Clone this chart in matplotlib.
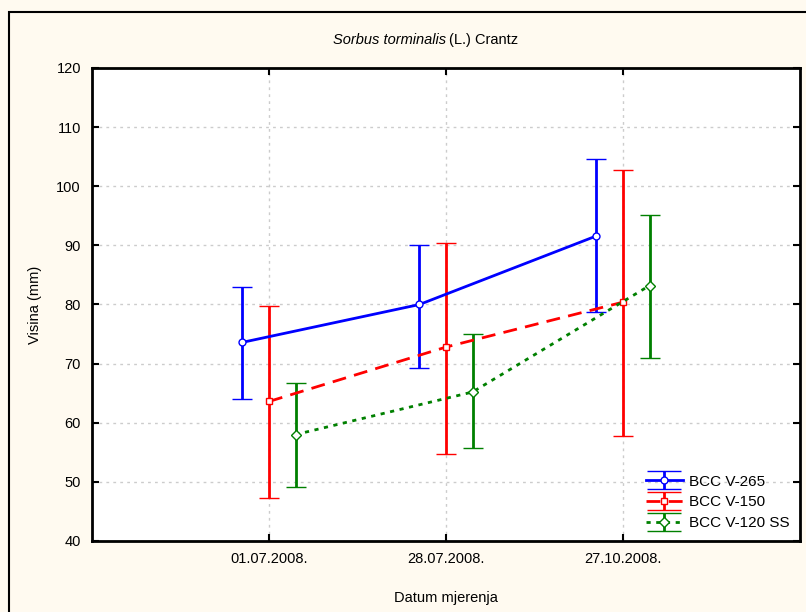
import numpy as np
import matplotlib
matplotlib.use('Agg')
import matplotlib.pyplot as plt
from matplotlib.patches import Rectangle
from matplotlib.legend_handler import HandlerErrorbar
from matplotlib.container import ErrorbarContainer

plt.rcParams['font.family'] = ['Liberation Sans', 'DejaVu Sans']

datumi = ['01.07.2008.', '28.07.2008.', '27.10.2008.']
serije = ['BCC V-265', 'BCC V-150', 'BCC V-120 SS']

# srednje vrijednosti i granice (donja, gornja)
v265 = [73.6, 80.0, 91.6]
v265_donja = [64.0, 69.2, 78.8]
v265_gornja = [83.0, 90.0, 104.6]

v150 = [63.6, 72.8, 80.4]
v150_donja = [47.2, 54.7, 57.7]
v150_gornja = [79.7, 90.4, 102.7]

v120 = [58.0, 65.2, 83.2]
v120_donja = [49.2, 55.7, 71.0]
v120_gornja = [66.7, 75.0, 95.2]

fig = plt.figure(figsize=(8.06, 6.12), dpi=100)
fig.patch.set_facecolor('#fffaf0')
ax = fig.add_axes([92/806, 1 - 541/612, 708/806, 473/612])
ax.set_facecolor('white')

# okvir oko slike
fig.patches.append(Rectangle((9/806, -0.1), 1.0, 1 - 12/612 + 0.1, transform=fig.transFigure,
                             fill=False, edgecolor='black', linewidth=1.5, zorder=0))

x = np.arange(1, len(datumi) + 1)
stil = [
    (v265, v265_donja, v265_gornja, -0.15, 'blue', '-', 'o', 5),
    (v150, v150_donja, v150_gornja, 0.0, 'red', (0, (5, 3)), 's', 5),
    (v120, v120_donja, v120_gornja, 0.15, 'green', (0, (1.5, 2)), 'D', 5.5),
]
for (sr, d, g, pom, boja, ls, mk, ms), ime in zip(stil, serije):
    sr = np.array(sr)
    err = [sr - np.array(d), np.array(g) - sr]
    ax.errorbar(x + pom, sr, yerr=err, color=boja, linestyle=ls, linewidth=2,
                marker=mk, markersize=ms, markerfacecolor='white',
                markeredgecolor=boja, markeredgewidth=1, elinewidth=2, capsize=7,
                capthick=2, label=ime, zorder=3)

ax.set_xlim(0, 4)
ax.set_ylim(40, 120)
ax.set_xticks(x)
ax.set_xticklabels(datumi)
ax.set_yticks(np.arange(40, 121, 10))
ax.tick_params(direction='in', top=True, right=True, length=5, width=1.5,
               labelsize=10.5, pad=8)
ax.grid(True, color='#cccccc', linestyle=(0, (2, 3)), linewidth=1)
for s in ax.spines.values():
    s.set_linewidth(2)

ax.set_xlabel('Datum mjerenja', fontsize=10.5, labelpad=18)
ax.set_ylabel('Visina (mm)', fontsize=10.5, labelpad=10)

# naslov: dio u kurzivu + obican tekst
fig.text(446/806, 1 - 40/612, 'Sorbus torminalis', fontstyle='italic',
         ha='right', va='center', fontsize=10.5)
fig.text(446/806 + 0.004, 1 - 40/612, '(L.) Crantz', ha='left', va='center', fontsize=10.5)


def siroke_kape(leg_art, orig):
    leg_art.update_from(orig)
    if hasattr(leg_art, 'get_marker') and leg_art.get_marker() == '_':
        leg_art.set_markersize(24)


ax.legend(loc='lower right', frameon=False, fontsize=11, handlelength=2.4,
          borderaxespad=0.3, labelspacing=0.45, handletextpad=0.4,
          handler_map={ErrorbarContainer: HandlerErrorbar(yerr_size=0.6,
                                                          update_func=siroke_kape)})

fig.savefig('out.png', dpi=100, facecolor=fig.get_facecolor())
